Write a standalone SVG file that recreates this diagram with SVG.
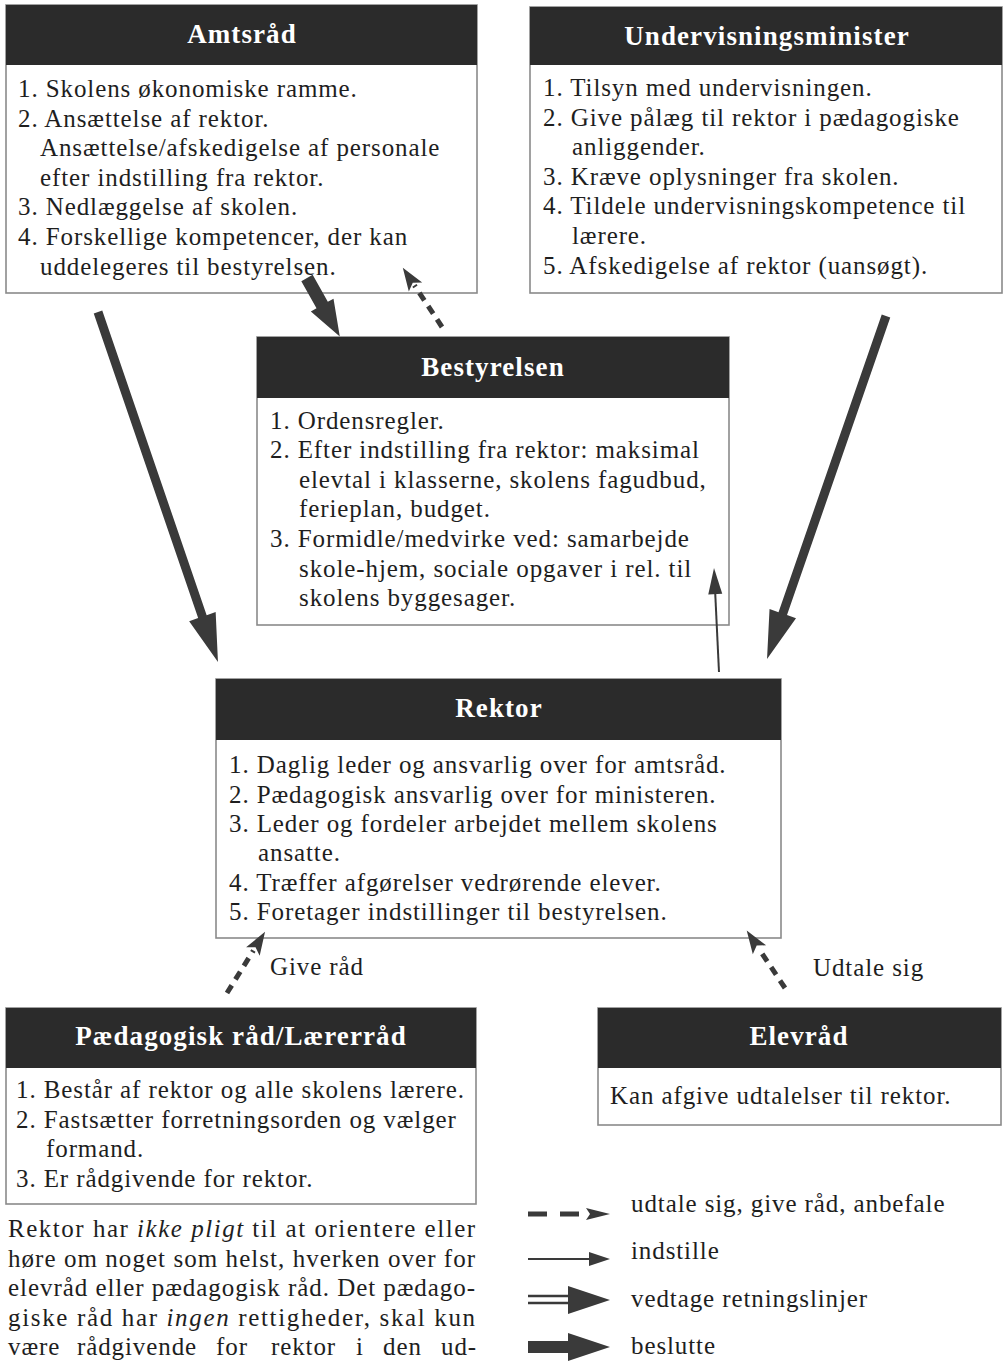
<svg xmlns="http://www.w3.org/2000/svg" width="1006" height="1362" viewBox="0 0 1006 1362">
<style>
.box{fill:#fff;stroke:#8a8a8a;stroke-width:1.6}
.hdr{fill:#2b2b2b}
.ttl{font-family:"Liberation Serif",serif;font-weight:bold;font-size:27px;fill:#fff;text-anchor:middle;letter-spacing:1.1px}
.bd{font-family:"Liberation Serif",serif;font-size:25px;fill:#1e1e1e;letter-spacing:0.9px}
.lbl{font-family:"Liberation Serif",serif;font-size:25px;fill:#1e1e1e;letter-spacing:0.9px}
.ar{fill:#3a3a3a}
.dash{stroke:#3a3a3a;stroke-width:5;fill:none;stroke-dasharray:9 7}
.thin{stroke:#3a3a3a;stroke-width:2;fill:none}
</style>

<g id="amtsraad">
<rect class="box" x="6" y="5" width="471" height="288"/>
<rect class="hdr" x="6" y="5" width="471" height="60"/>
<text class="ttl" x="242" y="43">Amtsråd</text>
<text class="bd" x="18" y="97">1. Skolens økonomiske ramme.</text>
<text class="bd" x="18" y="127">2. Ansættelse af rektor.</text>
<text class="bd" x="40" y="156">Ansættelse/afskedigelse af personale</text>
<text class="bd" x="40" y="186">efter indstilling fra rektor.</text>
<text class="bd" x="18" y="215">3. Nedlæggelse af skolen.</text>
<text class="bd" x="18" y="245">4. Forskellige kompetencer, der kan</text>
<text class="bd" x="40" y="275">uddelegeres til bestyrelsen.</text>
</g>

<g id="undervisningsminister">
<rect class="box" x="530" y="7" width="472" height="286"/>
<rect class="hdr" x="530" y="7" width="472" height="58"/>
<text class="ttl" x="767" y="45">Undervisningsminister</text>
<text class="bd" x="543" y="96">1. Tilsyn med undervisningen.</text>
<text class="bd" x="543" y="126">2.  Give pålæg til rektor i pædagogiske</text>
<text class="bd" x="572" y="155">anliggender.</text>
<text class="bd" x="543" y="185">3. Kræve oplysninger fra skolen.</text>
<text class="bd" x="543" y="214">4. Tildele undervisningskompetence til</text>
<text class="bd" x="572" y="244">lærere.</text>
<text class="bd" x="543" y="274">5. Afskedigelse af rektor (uansøgt).</text>
</g>

<g id="bestyrelsen">
<rect class="box" x="257" y="337" width="472" height="288"/>
<rect class="hdr" x="257" y="337" width="472" height="61"/>
<text class="ttl" x="493" y="376">Bestyrelsen</text>
<text class="bd" x="270" y="429">1. Ordensregler.</text>
<text class="bd" x="270" y="458">2. Efter indstilling fra rektor: maksimal</text>
<text class="bd" x="299" y="488">elevtal i klasserne, skolens fagudbud,</text>
<text class="bd" x="299" y="517">ferieplan, budget.</text>
<text class="bd" x="270" y="547">3. Formidle/medvirke ved: samarbejde</text>
<text class="bd" x="299" y="577">skole-hjem, sociale opgaver i rel. til</text>
<text class="bd" x="299" y="606">skolens byggesager.</text>
</g>

<g id="rektor">
<rect class="box" x="216" y="679" width="565" height="259"/>
<rect class="hdr" x="216" y="679" width="565" height="61"/>
<text class="ttl" x="499" y="717">Rektor</text>
<text class="bd" x="229" y="773">1. Daglig leder og ansvarlig over for amtsråd.</text>
<text class="bd" x="229" y="803">2. Pædagogisk ansvarlig over for ministeren.</text>
<text class="bd" x="229" y="832">3. Leder og fordeler arbejdet mellem skolens</text>
<text class="bd" x="258" y="861">ansatte.</text>
<text class="bd" x="229" y="891">4. Træffer afgørelser vedrørende elever.</text>
<text class="bd" x="229" y="920">5. Foretager indstillinger til bestyrelsen.</text>
</g>

<g id="paedagogisk-raad">
<rect class="box" x="6" y="1008" width="470" height="196"/>
<rect class="hdr" x="6" y="1008" width="470" height="60"/>
<text class="ttl" x="241" y="1045">Pædagogisk råd/Lærerråd</text>
<text class="bd" x="16" y="1098">1. Består af rektor og alle skolens lærere.</text>
<text class="bd" x="16" y="1128">2. Fastsætter forretningsorden og vælger</text>
<text class="bd" x="46" y="1157">formand.</text>
<text class="bd" x="16" y="1187">3. Er rådgivende for rektor.</text>
</g>

<g id="elevraad">
<rect class="box" x="598" y="1008" width="403" height="117"/>
<rect class="hdr" x="598" y="1008" width="403" height="60"/>
<text class="ttl" x="799" y="1045">Elevråd</text>
<text class="bd" x="610" y="1104">Kan afgive udtalelser til rektor.</text>
</g>

<g id="connectors">
<polygon class="ar" transform="translate(307,278) rotate(60.7)" points="0,-6.5 31,-6.5 31,-13 67,0 31,13 31,6.5 0,6.5"/>
<g transform="translate(442,327) rotate(-123.5)">
<line class="dash" x1="0" y1="0" x2="50" y2="0"/>
<polygon class="ar" points="71,0 48,-8 53,0 48,8"/>
</g>
<polygon class="ar" transform="translate(98,312) rotate(71.08)" points="0,-4.5 322,-4.5 322,-14 370,0 322,14 322,4.5 0,4.5"/>
<polygon class="ar" transform="translate(886,316) rotate(109.13)" points="0,-4.5 315,-4.5 315,-14 363,0 315,14 315,4.5 0,4.5"/>
<g transform="translate(719,672) rotate(-92.75)">
<line class="thin" x1="0" y1="0" x2="82" y2="0"/>
<polygon class="ar" points="104,0 78,-7 78,7"/>
</g>
<g transform="translate(227,993) rotate(-58.1)">
<line class="dash" x1="0" y1="0" x2="50" y2="0"/>
<polygon class="ar" points="72,0 49,-8 54,0 49,8"/>
</g>
<text class="lbl" x="270" y="975">Give råd</text>
<g transform="translate(785,988) rotate(-123.7)">
<line class="dash" x1="0" y1="0" x2="47" y2="0"/>
<polygon class="ar" points="69,0 46,-8 51,0 46,8"/>
</g>
<text class="lbl" x="813" y="976">Udtale sig</text>
</g>

<g id="legend">
<line class="dash" x1="528" y1="1214" x2="580" y2="1214" style="stroke-dasharray:19 13"/>
<polygon class="ar" points="610,1214 586,1208 590,1214 586,1220"/>
<text class="lbl" x="631" y="1212">udtale sig, give råd, anbefale</text>
<line class="thin" x1="528" y1="1259" x2="595" y2="1259"/>
<polygon class="ar" points="610,1259 589,1252 589,1266"/>
<text class="lbl" x="631" y="1259">indstille</text>
<line class="thin" x1="528" y1="1296" x2="575" y2="1296" style="stroke-width:2.6"/>
<line class="thin" x1="528" y1="1303" x2="575" y2="1303" style="stroke-width:2.6"/>
<polygon class="ar" points="610,1300 568,1286 568,1314"/>
<text class="lbl" x="631" y="1307">vedtage retningslinjer</text>
<rect class="ar" x="528" y="1341" width="44" height="12"/>
<polygon class="ar" points="610,1347 568,1333 568,1361"/>
<text class="lbl" x="631" y="1354">beslutte</text>
</g>

<g id="note">
<text class="bd" x="8" y="1237" textLength="468" lengthAdjust="spacing">Rektor har <tspan font-style="italic">ikke pligt</tspan> til at orientere eller</text>
<text class="bd" x="8" y="1267" textLength="468" lengthAdjust="spacing">høre om noget som helst, hverken over for</text>
<text class="bd" x="8" y="1296" textLength="468" lengthAdjust="spacing">elevråd eller pædagogisk råd. Det pædago-</text>
<text class="bd" x="8" y="1326" textLength="468" lengthAdjust="spacing">giske råd har <tspan font-style="italic">ingen</tspan> rettigheder, skal kun</text>
<text class="bd" x="8" y="1355"><tspan x="8">være</tspan><tspan x="77">rådgivende</tspan><tspan x="216">for</tspan><tspan x="271">rektor</tspan><tspan x="356">i</tspan><tspan x="383">den</tspan><tspan x="441">ud-</tspan></text>
</g>
</svg>
